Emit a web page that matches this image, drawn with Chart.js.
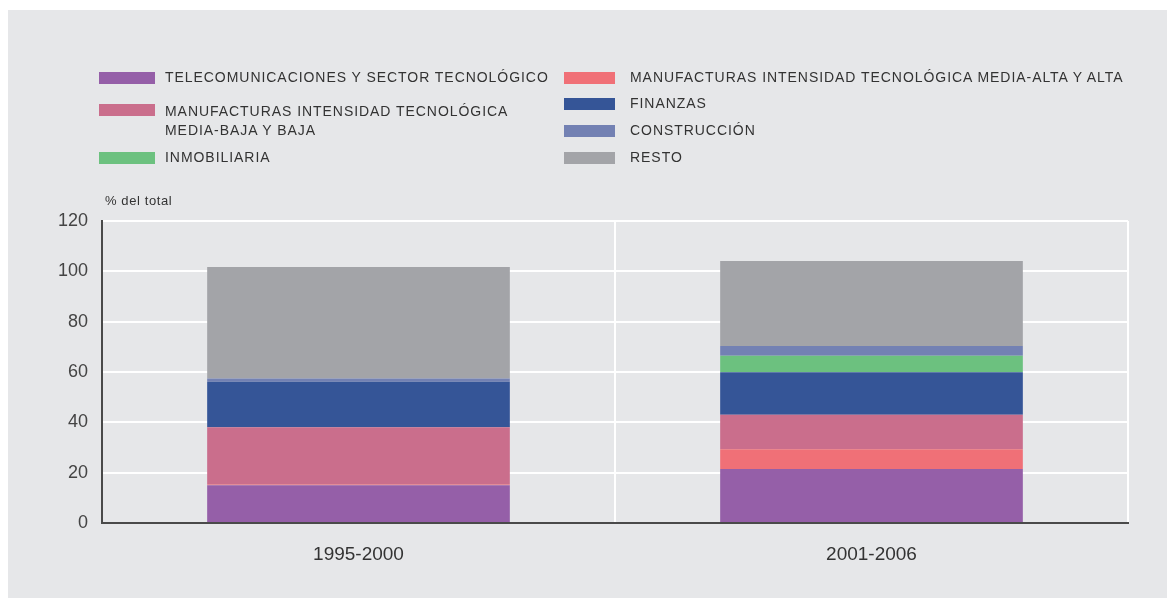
<!DOCTYPE html>
<html lang="es">
<head>
<meta charset="utf-8">
<title>% del total por sector</title>
<script src="https://cdn.jsdelivr.net/npm/chart.js@4/dist/chart.umd.min.js"></script>
<style>
    html, body { margin: 0; padding: 0; background: #ffffff; }
    body { width: 1167px; height: 599px; position: relative; overflow: hidden; font-family: "Liberation Sans", Arial, sans-serif; }
    #panel { position: absolute; left: 8px; top: 10px; width: 1159px; height: 588px; background: #e6e7e9; }
    #chartWrap { position: absolute; left: 0; top: 0; width: 1167px; height: 599px; }
    .sw { position: absolute; height: 12px; }
    .lbl { position: absolute; font-size: 14px; line-height: 19px; letter-spacing: 0.95px; color: #333333; white-space: nowrap; }
</style>
</head>
<body>
<div id="panel"></div>
<div id="chartWrap"><canvas id="sectorChart" width="1167" height="599"></canvas></div>
<div id="legend"></div>

<script>
// datos (% del total)
const periodos = ['1995-2000', '2001-2006'];

const telecomunicaciones = [15.0, 21.5];
const manufMediaAlta     = [0.3, 7.8];
const manufMediaBaja     = [22.7, 13.7];
const finanzas           = [18.1, 16.9];
const inmobiliaria       = [0.0, 6.6];
const construccion       = [1.3, 3.8];
const resto              = [44.3, 33.8];

const yTicks = [0, 20, 40, 60, 80, 100, 120];

const series = [
    { label: 'TELECOMUNICACIONES Y SECTOR TECNOLÓGICO', data: telecomunicaciones, color: '#955fa8' },
    { label: 'MANUFACTURAS INTENSIDAD TECNOLÓGICA MEDIA-ALTA Y ALTA', data: manufMediaAlta, color: '#f07077' },
    { label: 'MANUFACTURAS INTENSIDAD TECNOLÓGICA MEDIA-BAJA Y BAJA', data: manufMediaBaja, color: '#ca6e8c' },
    { label: 'FINANZAS', data: finanzas, color: '#355597' },
    { label: 'INMOBILIARIA', data: inmobiliaria, color: '#6cc17f' },
    { label: 'CONSTRUCCIÓN', data: construccion, color: '#7381b3' },
    { label: 'RESTO', data: resto, color: '#a3a4a8' }
];

// leyenda en dos columnas (html, para poder partir la línea larga)
const legendItems = [
    { s: 0, x: 99,  w: 56, gap: 10, y: 78,  lines: ['TELECOMUNICACIONES Y SECTOR TECNOLÓGICO'] },
    { s: 2, x: 99,  w: 56, gap: 10, y: 110, lines: ['MANUFACTURAS INTENSIDAD TECNOLÓGICA', 'MEDIA-BAJA Y BAJA'], textY: 112 },
    { s: 4, x: 99,  w: 56, gap: 10, y: 158, lines: ['INMOBILIARIA'] },
    { s: 1, x: 564, w: 51, gap: 15, y: 78,  lines: ['MANUFACTURAS INTENSIDAD TECNOLÓGICA MEDIA-ALTA Y ALTA'] },
    { s: 3, x: 564, w: 51, gap: 15, y: 104, lines: ['FINANZAS'] },
    { s: 5, x: 564, w: 51, gap: 15, y: 131, lines: ['CONSTRUCCIÓN'] },
    { s: 6, x: 564, w: 51, gap: 15, y: 158, lines: ['RESTO'] }
];

const legendEl = document.getElementById('legend');
legendItems.forEach(item => {
    const sw = document.createElement('div');
    sw.className = 'sw';
    sw.style.left = item.x + 'px';
    sw.style.width = item.w + 'px';
    sw.style.top = (item.y - 6) + 'px';
    sw.style.background = series[item.s].color;
    legendEl.appendChild(sw);

    const firstY = item.textY || item.y;
    item.lines.forEach((line, i) => {
        const t = document.createElement('div');
        t.className = 'lbl';
        t.textContent = line;
        t.style.left = (item.x + item.w + item.gap) + 'px';
        t.style.top = (firstY - 10 + i * 19) + 'px';
        legendEl.appendChild(t);
    });
});

// "% del total" sobre el eje
const axisTitle = {
    id: 'axisTitle',
    afterDraw(chart) {
        const ctx = chart.ctx;
        ctx.save();
        ctx.font = '13px "Liberation Sans", Arial, sans-serif';
        ctx.letterSpacing = '0.6px';
        ctx.fillStyle = '#333333';
        ctx.textAlign = 'left';
        ctx.textBaseline = 'middle';
        ctx.fillText('% del total', 105, 201);
        ctx.restore();
    }
};

const ctx = document.getElementById('sectorChart').getContext('2d');
new Chart(ctx, {
    type: 'bar',
    data: {
        labels: periodos,
        datasets: series.map(s => ({
            label: s.label,
            data: s.data,
            backgroundColor: s.color,
            borderWidth: 0,
            barPercentage: 0.59,
            categoryPercentage: 1.0
        }))
    },
    options: {
        responsive: false,
        animation: false,
        layout: {
            padding: { left: 8, right: 39, top: 221, bottom: 16 }
        },
        scales: {
            x: {
                stacked: true,
                grid: { color: '#ffffff', lineWidth: 2, drawTicks: false },
                border: { color: '#4a4a4a', width: 2 },
                ticks: {
                    color: '#333333',
                    font: { family: '"Liberation Sans", Arial, sans-serif', size: 19 },
                    padding: 20
                },
                afterFit: scale => { scale.height = 60; }
            },
            y: {
                stacked: true,
                min: 0,
                max: 120,
                afterBuildTicks: scale => { scale.ticks = yTicks.map(v => ({ value: v })); },
                grid: { color: '#ffffff', lineWidth: 2, drawTicks: false },
                border: { color: '#4a4a4a', width: 2 },
                ticks: {
                    color: '#444444',
                    font: { family: '"Liberation Sans", Arial, sans-serif', size: 18 },
                    padding: 14
                },
                afterFit: scale => { scale.width = 94; }
            }
        },
        plugins: {
            legend: { display: false },
            tooltip: { enabled: false }
        }
    },
    plugins: [axisTitle]
});
</script>
</body>
</html>
